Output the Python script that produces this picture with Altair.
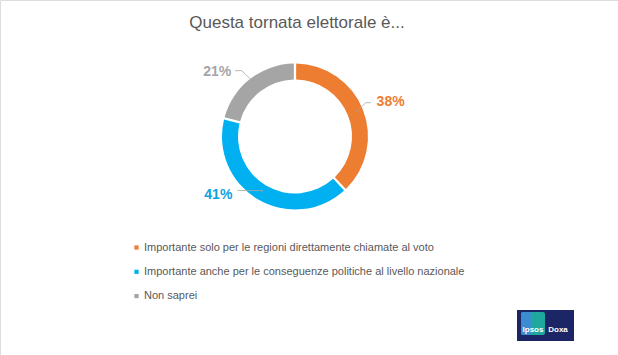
import math
import altair as alt
import pandas as pd

# ---- data ----
categories = [
    "Importante solo per le regioni direttamente chiamate al voto",
    "Importante anche per le conseguenze politiche al livello nazionale",
    "Non saprei",
]
values = [38, 41, 21]
labels = ["38%", "41%", "21%"]
colors = ["#ED7D31", "#00B0F0", "#A5A5A5"]
label_colors = ["#ED7D31", "#0EA2E0", "#A5A5A5"]
title_text = "Questa tornata elettorale è..."

# ---- layout (pixels / polar positions) ----
W, H = 618, 355
CX, CY = 295, 136.5
R_OUT, R_IN = 73, 57
label_angle = [70.4, 232.6, 309.6]      # degrees clockwise from top
label_radius = [101.5, 96.5, 101.0]
leader_start_r = [65, 65, 73]
elbow_angle = [64.5, 211.0, 321.0]
elbow_radius = [78.6, 63.0, 84.7]
tail = [5, -25, -6.7]


def polar(a, r):
    rad = math.radians(a)
    return CX + r * math.sin(rad), CY - r * math.cos(rad)


df = pd.DataFrame({"cat": categories, "value": values, "order": range(3)})

total = sum(values)
cum = 0
lab_rows, line_rows = [], []
for i, v in enumerate(values):
    mid = (cum + v / 2) / total * 360
    cum += v
    lx, ly = polar(label_angle[i], label_radius[i])
    lab_rows.append({"x": lx, "y": ly, "t": labels[i], "c": label_colors[i]})
    sx, sy = polar(mid, leader_start_r[i])
    ex, ey = polar(elbow_angle[i], elbow_radius[i])
    pts = [(sx, sy), (ex, ey), (ex + tail[i], ey)]
    for k, (px, py) in enumerate(pts):
        line_rows.append({"x": px, "y": py, "k": k, "id": i})
lab_df = pd.DataFrame(lab_rows)
line_df = pd.DataFrame(line_rows)

color_scale = alt.Scale(domain=categories, range=colors)

ring = alt.Chart(df).mark_arc(
    outerRadius=R_OUT, innerRadius=R_IN, padAngle=0.025
).encode(
    theta=alt.Theta("value:Q", stack=True),
    order=alt.Order("order:Q"),
    color=alt.Color(
        "cat:N",
        scale=color_scale,
        sort=categories,
        legend=alt.Legend(
            title=None,
            orient="none",
            legendX=131,
            legendY=242,
            symbolType="square",
            symbolSize=18,
            symbolStrokeWidth=0,
            labelFont="Liberation Sans",
            labelFontSize=11,
            labelColor="#595959",
            labelLimit=500,
            labelOffset=2,
            rowPadding=12.3,
        ),
    ),
    x=alt.value(CX),
    y=alt.value(CY),
)

leaders = alt.Chart(line_df).mark_line(color="#A6A6A6", strokeWidth=0.8).encode(
    x=alt.X("x:Q", scale=None),
    y=alt.Y("y:Q", scale=None),
    detail="id:N",
    order="k:Q",
)

pct = alt.Chart(lab_df).mark_text(
    font="Liberation Sans", fontSize=14, fontWeight="bold", baseline="middle", align="center"
).encode(
    x=alt.X("x:Q", scale=None),
    y=alt.Y("y:Q", scale=None),
    text="t:N",
    color=alt.Color("c:N", scale=None),
)

title = alt.Chart(pd.DataFrame({"t": [title_text]})).mark_text(
    font="Liberation Sans", fontSize=17, color="#595959", align="center", baseline="alphabetic"
).encode(x=alt.value(297), y=alt.value(28), text="t:N")

# logo
logo_bg = alt.Chart(pd.DataFrame({"a": [0]})).mark_rect(color="#1C2566").encode(
    x=alt.value(517), x2=alt.value(574), y=alt.value(310), y2=alt.value(341)
)
logo_box = alt.Chart(pd.DataFrame({"a": [0]})).mark_rect(
    color="#1FA89E", cornerRadius=2
).encode(x=alt.value(521), x2=alt.value(545), y=alt.value(312), y2=alt.value(335))
logo_box2 = alt.Chart(pd.DataFrame({"a": [0]})).mark_rect(
    color="#3C8CD2", cornerRadius=2
).encode(x=alt.value(521), x2=alt.value(531), y=alt.value(312), y2=alt.value(335))
logo_txt = alt.Chart(pd.DataFrame({"t": ["Ipsos", "Doxa"], "x": [533, 558]})).mark_text(
    font="Liberation Sans", fontSize=8, fontWeight="bold", color="white", baseline="middle"
).encode(x=alt.X("x:Q", scale=None), y=alt.value(330), text="t:N")

chart = alt.layer(
    ring, leaders, pct, title, logo_bg, logo_box, logo_box2, logo_txt
).properties(
    width=W, height=H, autosize=alt.AutoSizeParams(type="none"), padding=0
).configure_view(stroke=None).configure(background="white")

chart.save("out.html", embed_options={"renderer": "svg", "actions": False})
